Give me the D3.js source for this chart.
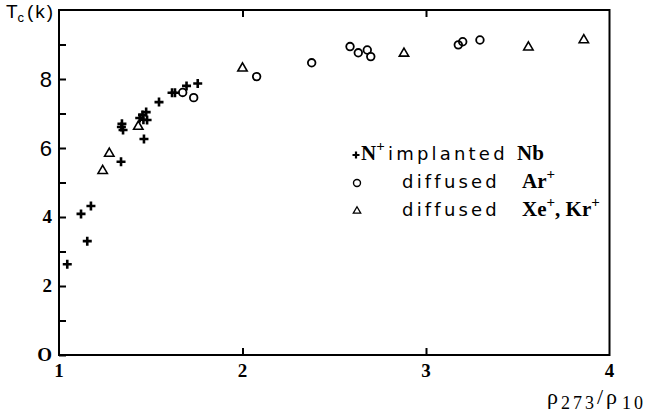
<!DOCTYPE html>
<html>
<head>
<meta charset="utf-8">
<script src="https://cdn.jsdelivr.net/npm/d3@7"></script>
<style>
  body { margin: 0; background: #fff; }
  svg { display: block; }
</style>
</head>
<body>
<div id="chart"></div>
<script>
// N+ implanted Nb  [rho273/rho10, Tc]
const implantedN = [
  [1.045, 2.63], [1.12, 4.09], [1.154, 3.30], [1.174, 4.32],
  [1.338, 5.60], [1.343, 6.70], [1.349, 6.52], [1.340, 6.61],
  [1.463, 6.26], [1.44, 6.87], [1.455, 6.96], [1.475, 7.04],
  [1.48, 6.81], [1.46, 6.82], [1.545, 7.33], [1.616, 7.60],
  [1.632, 7.60], [1.695, 7.80], [1.756, 7.87]
];
// diffused Ar+
const diffusedAr = [
  [1.674, 7.61], [1.734, 7.46], [2.077, 8.07], [2.377, 8.47],
  [2.586, 8.94], [2.631, 8.76], [2.68, 8.84], [2.699, 8.65],
  [3.176, 8.99], [3.2, 9.08], [3.294, 9.13]
];
// diffused Xe+, Kr+
const diffusedXeKr = [
  [1.238, 5.34], [1.274, 5.84], [1.432, 6.62], [2.0, 8.31],
  [2.88, 8.74], [3.558, 8.92], [3.86, 9.13]
];

const xTicks = [1, 2, 3, 4];
const xTickLabels = ['1', '2', '3', '4'];
const yTicks = [0, 1, 2, 3, 4, 5, 6, 7, 8, 9];
const yLabelValues = [0, 2, 4, 6, 8];
const yTickLabels = ['O', '2', '4', '6', '8'];

const W = 645, H = 415;
const SERIF = '"Liberation Serif", "DejaVu Serif", serif';
const SANS = '"Liberation Sans", "DejaVu Sans", sans-serif';
const WIDE = '"DejaVu Sans", sans-serif';

const svg = d3.select('#chart').append('svg')
  .attr('width', W)
  .attr('height', H);

const x = d3.scaleLinear().domain([1, 4]).range([59, 609.5]);
const y = d3.scaleLinear().domain([0, 10]).range([355, 10]);

// frame
svg.append('rect')
  .attr('x', x(1)).attr('y', y(10))
  .attr('width', x(4) - x(1)).attr('height', y(0) - y(10))
  .attr('fill', 'none')
  .attr('stroke', '#000')
  .attr('stroke-width', 2);

// bottom axis, ticks inward
svg.append('g')
  .attr('transform', `translate(0, ${y(0)})`)
  .call(d3.axisTop(x).tickValues([2, 3]).tickSize(7).tickFormat(''))
  .call(g => g.select('.domain').remove())
  .call(g => g.selectAll('line').attr('stroke-width', 2));

// top ticks, pointing down
svg.append('g')
  .attr('transform', `translate(0, ${y(10)})`)
  .call(d3.axisBottom(x).tickValues([2, 3]).tickSize(7).tickFormat(''))
  .call(g => g.select('.domain').remove())
  .call(g => g.selectAll('line').attr('stroke-width', 2));

// left axis, ticks inward
svg.append('g')
  .attr('transform', `translate(${x(1)}, 0)`)
  .call(d3.axisRight(y).tickValues(yTicks).tickSize(7).tickFormat(''))
  .call(g => g.select('.domain').remove())
  .call(g => g.selectAll('line').attr('stroke-width', 2));

// x tick labels
svg.append('g').selectAll('text')
  .data(xTicks)
  .join('text')
  .attr('x', d => x(d))
  .attr('y', 377)
  .attr('text-anchor', 'middle')
  .attr('font-family', SERIF)
  .attr('font-weight', 'bold')
  .attr('font-size', 19)
  .text((d, i) => xTickLabels[i]);

// y tick labels (scan mixes faces: 6 and 8 are sans)
svg.append('g').selectAll('text')
  .data(yLabelValues)
  .join('text')
  .attr('x', 52)
  .attr('y', d => y(d))
  .attr('dy', d => d >= 6 ? '0.36em' : '0.34em')
  .attr('text-anchor', 'end')
  .attr('font-family', d => d >= 6 ? SANS : SERIF)
  .attr('font-weight', d => d >= 6 ? 'normal' : 'bold')
  .attr('font-size', d => d >= 6 ? 22 : 19)
  .text((d, i) => yTickLabels[i]);

// y title
const yt = svg.append('text')
  .attr('x', 6).attr('y', 18)
  .attr('font-family', SANS)
  .attr('font-size', 19);
yt.append('tspan').text('T');
yt.append('tspan').attr('dy', 4).attr('font-size', 13).text('c');
yt.append('tspan').attr('dy', -4).attr('x', 27).attr('letter-spacing', 2).text('(k)');

// x title
const xt = svg.append('text')
  .attr('y', 404)
  .attr('font-family', SERIF)
  .attr('font-size', 22);
xt.append('tspan').attr('x', 547).text('ρ');
xt.append('tspan').attr('x', 561).attr('dy', 5).attr('font-size', 18).attr('letter-spacing', 3).text('273');
xt.append('tspan').attr('x', 597).attr('dy', -5).text('/');
xt.append('tspan').attr('x', 606).text('ρ');
xt.append('tspan').attr('x', 622).attr('dy', 5).attr('font-size', 18).attr('letter-spacing', 3).text('10');

// markers
const plusPath = 'M-4.5,0H4.5M0,-4.5V4.5';
const tri = d3.symbol(d3.symbolTriangle, 38);

const pts = svg.append('g');

pts.selectAll('.tri')
  .data(diffusedXeKr)
  .join('path')
  .attr('class', 'tri')
  .attr('transform', d => `translate(${x(d[0])}, ${y(d[1])})`)
  .attr('d', tri)
  .attr('fill', 'none')
  .attr('stroke', '#000')
  .attr('stroke-width', 1.6);

pts.selectAll('.circ')
  .data(diffusedAr)
  .join('circle')
  .attr('class', 'circ')
  .attr('cx', d => x(d[0]))
  .attr('cy', d => y(d[1]))
  .attr('r', 3.8)
  .attr('fill', 'none')
  .attr('stroke', '#000')
  .attr('stroke-width', 1.8);

pts.selectAll('.plus')
  .data(implantedN)
  .join('path')
  .attr('class', 'plus')
  .attr('transform', d => `translate(${x(d[0])}, ${y(d[1])})`)
  .attr('d', plusPath)
  .attr('stroke', '#000')
  .attr('stroke-width', 2.6);

// legend
const lg = svg.append('g');
lg.append('path')
  .attr('transform', 'translate(356, 155)')
  .attr('d', 'M-3.5,0H3.5M0,-3.5V3.5')
  .attr('stroke', '#000')
  .attr('stroke-width', 2.2);
lg.append('circle')
  .attr('cx', 357).attr('cy', 183).attr('r', 3.5)
  .attr('fill', 'none').attr('stroke', '#000').attr('stroke-width', 1.4);
lg.append('path')
  .attr('transform', 'translate(357, 211)')
  .attr('d', d3.symbol(d3.symbolTriangle, 24))
  .attr('fill', 'none').attr('stroke', '#000').attr('stroke-width', 1.3);

const r1 = lg.append('text').attr('y', 160).attr('font-size', 18);
r1.append('tspan').attr('x', 361).attr('font-family', SERIF).attr('font-weight', 'bold').attr('font-size', 21).text('N');
r1.append('tspan').attr('font-family', SERIF).attr('font-weight', 'bold').attr('font-size', 15).attr('dy', -9).text('+');
r1.append('tspan').attr('font-family', WIDE).attr('dy', 9).attr('x', 388).attr('letter-spacing', 3.2).text('implanted');
r1.append('tspan').attr('font-family', SERIF).attr('font-weight', 'bold').attr('font-size', 21).attr('x', 517).text('Nb');

const r2 = lg.append('text').attr('y', 188).attr('font-size', 18);
r2.append('tspan').attr('font-family', WIDE).attr('x', 402).attr('letter-spacing', 3.2).text('diffused');
r2.append('tspan').attr('font-family', SERIF).attr('font-weight', 'bold').attr('font-size', 21).attr('x', 522).text('Ar');
r2.append('tspan').attr('font-family', SERIF).attr('font-weight', 'bold').attr('font-size', 15).attr('dy', -9).text('+');

const r3 = lg.append('text').attr('y', 216).attr('font-size', 18);
r3.append('tspan').attr('font-family', WIDE).attr('x', 402).attr('letter-spacing', 3.2).text('diffused');
r3.append('tspan').attr('font-family', SERIF).attr('font-weight', 'bold').attr('font-size', 21).attr('x', 522).text('Xe');
r3.append('tspan').attr('font-family', SERIF).attr('font-weight', 'bold').attr('font-size', 15).attr('dy', -9).text('+');
r3.append('tspan').attr('font-family', SERIF).attr('font-weight', 'bold').attr('font-size', 21).attr('dy', 9).text(', Kr');
r3.append('tspan').attr('font-family', SERIF).attr('font-weight', 'bold').attr('font-size', 15).attr('dy', -9).text('+');
</script>
</body>
</html>
